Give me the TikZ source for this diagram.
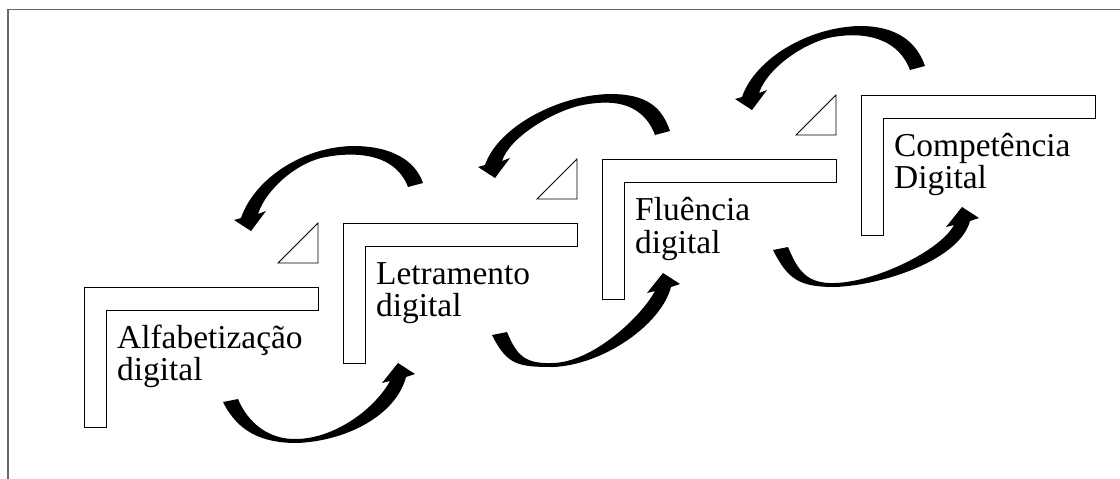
\documentclass[tikz,border=0pt]{standalone}
\usepackage{fontspec}
\setmainfont{Liberation Serif}
\usetikzlibrary{calc}
% bottom arrow: #1 outer left end, #2 lowest outer point, #3 tip
\newcommand\botarrow[3]{%
  \fill[arrowfill] (#1) .. controls +(15,30) and +(-35,0) .. (#2)
    .. controls +(50,-2) and +(-10,38) .. ($(#3)+(8,14)$)
    -- ($(#3)+(17,11)$) -- (#3) -- ($(#3)+(-16,20)$) -- ($(#3)+(-8,18)$)
    .. controls +(-14,26) and +(40,-1) .. ($(#2)+(0,-4)$)
    .. controls +(-28,1) and +(10,24) .. ($(#1)+(15,-3)$) -- cycle;}
% top arrow: #1 outer right end, #2 highest outer point, #3 tip
\newcommand\toparrow[3]{%
  \fill[arrowfill] (#1) .. controls +(-8,-23) and +(38,0) .. (#2)
    .. controls +(-52,1) and +(13,-38) .. ($(#3)+(-10,-13)$)
    -- ($(#3)+(-17,-11)$) -- (#3) -- ($(#3)+(15,-20)$) -- ($(#3)+(7,-17)$)
    .. controls +(8,-24) and +(-27,7) .. ($(#2)+(-32,12)$)
    .. controls +(27,-6) and +(-14,-37) .. ($(#1)+(-15,4)$) -- cycle;}
\newcommand\lstep[2]{%
  \draw[lshape] (#1,#2) -- ++(234,0) -- ++(0,23) -- ++(-212,0) -- ++(0,117) -- ++(-22,0) -- cycle;}
\newcommand\tristep[2]{%
  \draw[tri] (#1-40,#2+40) -- (#1,#2+40) -- (#1,#2) -- cycle;}
\begin{document}
\begin{tikzpicture}[x=1pt,y=-1pt,
  lshape/.style={draw=black,line width=0.9pt,fill=white,line join=miter},
  tri/.style={draw=black,line width=0.8pt},
  lbl/.style={anchor=base west,inner sep=0pt,font=\fontsize{33.4}{33}\selectfont},
  arrowfill/.style={fill=black},
  frame/.style={draw=black!60,line width=1.3pt}]
\useasboundingbox (0,0) rectangle (1120,479);
% frame (partially visible)
\draw[frame] (8,479) -- (8,9.5) -- (1120,9.5);
% steps
\lstep{84}{287}
\lstep{343}{223}
\lstep{602}{159}
\lstep{861}{95}
\tristep{318}{223}
\tristep{577}{159}
\tristep{836}{95}
% labels
\node[lbl] (a1) at (117,348) {Alfabetização};
\node[lbl] (a2) at (117,380) {digital};
\node[lbl] (b1) at (376,284) {Letramento};
\node[lbl] (b2) at (376,316) {digital};
\node[lbl] (c1) at (635,220) {Fluência};
\node[lbl] (c2) at (635,253) {digital};
\node[lbl] (d1) at (894,156) {Competência};
\node[lbl] (d2) at (894,188) {Digital};
% arrows
\toparrow{423,183}{353,146}{251,231}
\toparrow{670,131}{610,94}{495,178}
\toparrow{925,66}{860,26}{752,110}
\botarrow{223,402}{297,443}{398,363}
\botarrow{492,335}{553,367}{663,273}
\botarrow{773,250}{835,287}{962,207}
\end{tikzpicture}
\end{document}
